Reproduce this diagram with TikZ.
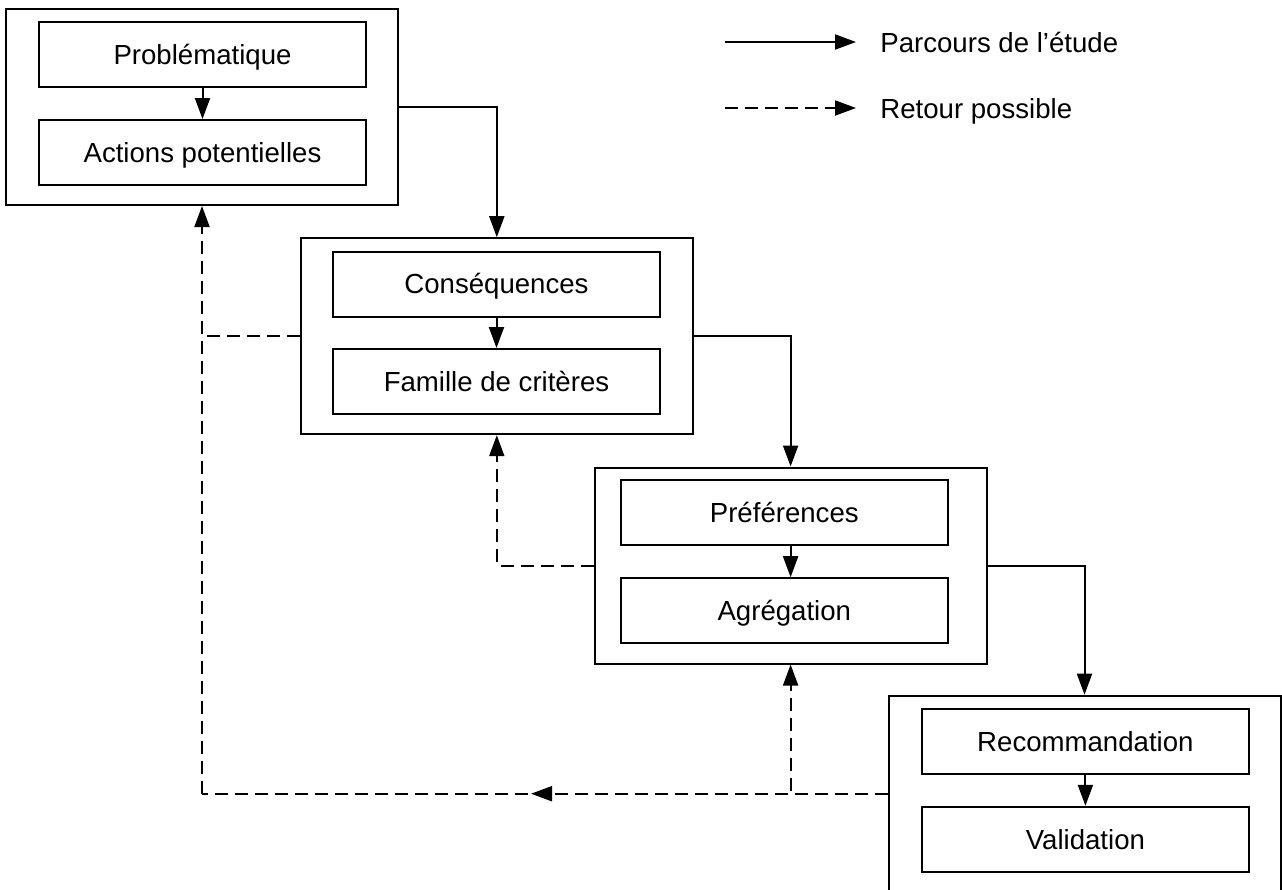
\documentclass[tikz,border=0pt]{standalone}
\usepackage{fontspec}
\setmainfont{Liberation Sans}
\usetikzlibrary{arrows.meta,calc,decorations.markings}

\begin{document}
\begin{tikzpicture}[x=0.5pt,y=-0.5pt,
		etape/.style={draw,line width=1pt,minimum width=196pt,minimum height=98pt,inner sep=0pt},
		tache/.style={draw,line width=1pt,minimum width=163.5pt,minimum height=32.5pt,inner sep=0pt,
			text height=9.7pt,text depth=0pt,font=\fontsize{13.8}{16}\selectfont},
		legende/.style={inner sep=0pt,anchor=base west,font=\fontsize{13.8}{16}\selectfont},
		fl/.style={line width=1pt,-{Triangle[length=10.5pt,width=7.5pt]}},
		retour/.style={fl,dash pattern=on 6.5pt off 3.5pt},
		pointille/.style={line width=1pt,dash pattern=on 6.5pt off 3.5pt}]
	\useasboundingbox (0,0) rectangle (1282,890);
	% Etapes
	\node[etape] (e1) at (202,107) {};
	\node[etape] (e2) at (496.8,336.2) {};
	\node[etape] (e3) at (790.6,565.5) {};
	\node[etape] (e4) at (1084.5,793.7) {};
	% Taches
	\node[tache] (pb) at (202.5,54.5) {Problématique};
	\node[tache] (ac) at (202.5,152.5) {Actions potentielles};
	\node[tache] (cs) at (496.5,284.2) {Conséquences};
	\node[tache] (fc) at (496.5,381.5) {Famille de critères};
	\node[tache] (pr) at (784.3,512.8) {Préférences};
	\node[tache] (ag) at (784.3,610.7) {Agrégation};
	\node[tache] (rc) at (1085.4,741.7) {Recommandation};
	\node[tache] (va) at (1085.4,839.3) {Validation};
	% Parcours de l'etude
	\draw[fl] (pb) -- (ac);
	\draw[fl] (cs) -- (fc);
	\draw[fl] (pr.south -| e3.north) -- (ag.north -| e3.north);
	\draw[fl] (rc) -- (va);
	\draw[fl] (e1.east) -| (e2.north);
	\draw[fl] (e2.east) -| (e3.north);
	\draw[fl] (e3.east) -| (e4.north);
	% Retours possibles
	\coordinate (c1) at (e1.south |- e4.west);
	\coordinate (c2) at (e1.south |- e2.west);
	\draw[retour] (e2.west) -| (e1.south);
	\draw[retour] (e3.west) -| (e2.south);
	\draw[retour] (e4.west) -| (e3.south);
	\draw[pointille,postaction={decorate},
		decoration={markings,mark=at position 0.52 with {\arrow{Triangle[length=10.5pt,width=7.5pt]}}}]
		(e4.west) -- (c1);
	\draw[pointille] (c1) -- (c2);
	% Legende
	\node[legende] (lp) at (880,52) {Parcours de l’étude};
	\node[legende] (lr) at (880,118) {Retour possible};
	\coordinate (lp0) at (725,42);
	\coordinate (lr0) at (725,108);
	\draw[fl] (lp0) -- ($(lp0 -| lp.west)+(-24,0)$);
	\draw[retour] (lr0) -- ($(lr0 -| lr.west)+(-24,0)$);
\end{tikzpicture}
\end{document}
